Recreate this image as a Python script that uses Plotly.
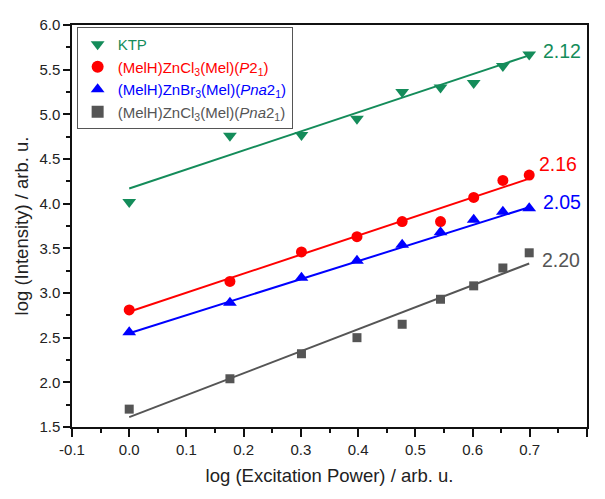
import plotly.graph_objects as go

x_power = [0.0, 0.176, 0.301, 0.398, 0.477, 0.544, 0.602, 0.653, 0.699]

ktp = [4.02, 4.76, 4.77, 4.95, 5.25, 5.30, 5.35, 5.54, 5.67]
cl_p21 = [2.81, 3.13, 3.46, 3.63, 3.80, 3.80, 4.07, 4.26, 4.32]
br_pna = [2.56, 2.89, 3.17, 3.36, 3.54, 3.68, 3.82, 3.91, 3.95]
cl_pna = [1.70, 2.04, 2.32, 2.50, 2.65, 2.93, 3.08, 3.28, 3.45]

# fitted lines as drawn: value at first and last x
fit_start = [4.17, 2.79, 2.55, 1.61]
fit_end = [5.66, 4.28, 3.96, 3.33]
slope_labels = ["2.12", "2.16", "2.05", "2.20"]
label_x = [0.72, 0.713, 0.72, 0.718]
label_y = [5.71, 4.44, 4.02, 3.37]

x_tick_vals = [-0.1, 0.0, 0.1, 0.2, 0.3, 0.4, 0.5, 0.6, 0.7, 0.8]
x_tick_text = ["-0.1", "0.0", "0.1", "0.2", "0.3", "0.4", "0.5", "0.6", "0.7", "0.8"]
y_tick_vals = [1.5, 2.0, 2.5, 3.0, 3.5, 4.0, 4.5, 5.0, 5.5, 6.0]
y_tick_text = ["1.5", "2.0", "2.5", "3.0", "3.5", "4.0", "4.5", "5.0", "5.5", "6.0"]

names = [
    "KTP",
    "(MelH)ZnCl<sub>3</sub>(Mel)(<i>P</i>2<sub>1</sub>)",
    "(MelH)ZnBr<sub>3</sub>(Mel)(<i>Pna</i>2<sub>1</sub>)",
    "(MelH)ZnCl<sub>3</sub>(Mel)(<i>Pna</i>2<sub>1</sub>)",
]
series = [ktp, cl_p21, br_pna, cl_pna]
colors = ["#148c5a", "#ff0000", "#0000ff", "#555555"]
symbols = ["triangle-down", "circle", "triangle-up", "square"]
sizes = [12, 11, 12, 9]

FONT = "Arial, Liberation Sans, sans-serif"

fig = go.Figure()
for i in range(4):
    fig.add_trace(go.Scatter(
        x=[x_power[0], x_power[-1]], y=[fit_start[i], fit_end[i]],
        mode="lines", line=dict(color=colors[i], width=2),
        showlegend=False, hoverinfo="skip"))
for i in range(4):
    fig.add_trace(go.Scatter(
        x=x_power, y=series[i], mode="markers",
        name='<span style="color:%s">%s</span>' % (colors[i], names[i]),
        marker=dict(symbol=symbols[i], color=colors[i], size=sizes[i],
                    line=dict(width=0))))
for i in range(4):
    fig.add_annotation(
        x=label_x[i], y=label_y[i], text=slope_labels[i], showarrow=False,
        xanchor="left", yanchor="middle",
        font=dict(family=FONT, size=19.5, color=colors[i]))

# the page body keeps its default 8px margin; size and margins allow for it
fig.update_layout(
    width=589, height=483,
    margin=dict(l=64, r=8, t=12, b=57),
    paper_bgcolor="white", plot_bgcolor="white",
    font=dict(family=FONT, size=15, color="#222222"),
    legend=dict(
        x=0.009, y=0.995, xanchor="left", yanchor="top",
        bordercolor="#555555", borderwidth=1, bgcolor="white",
        font=dict(family=FONT, size=15),
        tracegroupgap=0, itemsizing="constant",
    ),
    xaxis=dict(
        range=[-0.1, 0.8], tickmode="array", tickvals=x_tick_vals, ticktext=x_tick_text,
        showgrid=False, zeroline=False,
        showline=True, linecolor="#111111", linewidth=1.5, mirror=True,
        ticks="outside", ticklen=8, tickwidth=1.5, tickcolor="#111111",
        minor=dict(dtick=0.05, tick0=-0.1, ticks="outside", ticklen=4, tickwidth=1.5, tickcolor="#111111"),
        title=dict(text="log (Excitation Power) / arb. u.", font=dict(size=18.5, family=FONT), standoff=12),
        tickfont=dict(size=15, family=FONT),
    ),
    yaxis=dict(
        range=[1.5, 6.0], tickmode="array", tickvals=y_tick_vals, ticktext=y_tick_text,
        showgrid=False, zeroline=False,
        showline=True, linecolor="#111111", linewidth=1.5, mirror=True,
        ticks="outside", ticklen=7, tickwidth=1.5, tickcolor="#111111",
        minor=dict(dtick=0.25, tick0=1.5, ticks="outside", ticklen=4, tickwidth=1.5, tickcolor="#111111"),
        title=dict(text="log (Intensity) / arb. u.", font=dict(size=18.5, family=FONT), standoff=6),
        tickfont=dict(size=15, family=FONT),
    ),
)

fig.write_html("out.html")
